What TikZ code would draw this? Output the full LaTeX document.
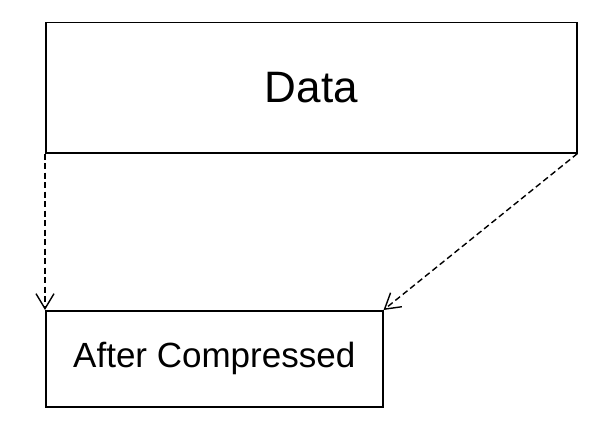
\documentclass[tikz,border=0pt]{standalone}
\usepackage{fontspec}
\setmainfont{Liberation Sans}
\usetikzlibrary{arrows.meta}
\tikzset{
  box/.style={draw=black, line width=1.5pt, inner sep=0pt, anchor=north west},
  dashlink/.style={draw=black, line width=1.4pt, dash pattern=on 6pt off 3.5pt,
    -{Straight Barb[length=15pt,width=18pt,line width=1.4pt]}}
}
\begin{document}
\begin{tikzpicture}[x=1pt,y=-1pt]
\useasboundingbox (0,0) rectangle (604,428);
\node[box, minimum width=531pt, minimum height=130pt] (data) at (45,22) {};
\node[font=\fontsize{44}{52}\selectfont] (datat) at (data.center) {Data};
\node[box, minimum width=337pt, minimum height=96pt] (comp) at (45,310) {};
\node[font=\fontsize{35}{42}\selectfont] (compt) at (comp.center) {After Compressed};
\draw[dashlink] (data.south west) -- (comp.north west);
\draw[dashlink] (data.south east) -- (comp.north east);
\end{tikzpicture}
\end{document}
